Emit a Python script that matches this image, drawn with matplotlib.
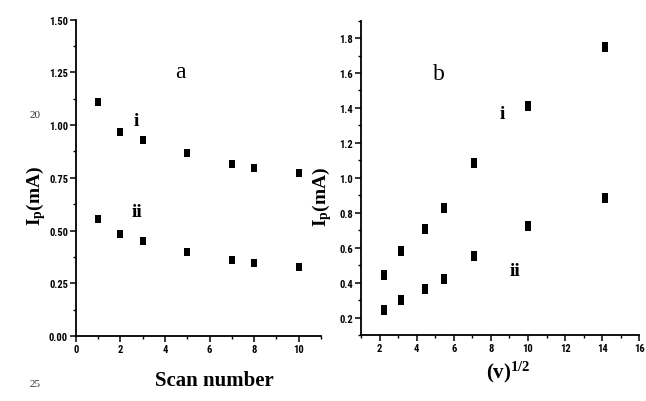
import matplotlib
matplotlib.use('Agg')
import matplotlib.pyplot as plt
import matplotlib.ticker as ticker
from matplotlib import font_manager
from matplotlib.path import Path
import numpy as np

# Panel a: peak current against scan number
scan = [1, 2, 3, 5, 7, 8, 10]
ip_a_i = [1.11, 0.967, 0.927, 0.867, 0.815, 0.798, 0.771]
ip_a_ii = [0.554, 0.485, 0.450, 0.397, 0.360, 0.346, 0.328]

# Panel b: peak current against square root of scan rate
rate = np.array([5, 10, 20, 30, 50, 100, 200])
sqrt_rate = np.sqrt(rate)
ip_b_i = [0.445, 0.583, 0.706, 0.828, 1.083, 1.413, 1.749]
ip_b_ii = [0.242, 0.299, 0.363, 0.420, 0.550, 0.726, 0.886]

plt.rcParams.update({
    'mathtext.fontset': 'custom',
    'mathtext.rm': 'Liberation Serif',
    'mathtext.bf': 'Liberation Serif:bold',
    'mathtext.it': 'Liberation Serif:italic',
})


def pick_font(names):
    for name in names:
        try:
            font_manager.findfont(font_manager.FontProperties(family=name),
                                  fallback_to_default=False)
            return name
        except ValueError:
            continue
    return 'DejaVu Sans'


TICK_FAMILY = pick_font(['Liberation Sans Narrow', 'Arial Narrow',
                         'Roboto Condensed', 'Liberation Sans'])
TICK_SIZE = 7.6 if ('Narrow' in TICK_FAMILY or 'Condensed' in TICK_FAMILY) else 6.8
SERIF = ['Liberation Serif', 'DejaVu Serif']

# tall rectangular marker
RECT = Path([(-0.36, -0.5), (0.36, -0.5), (0.36, 0.5), (-0.36, 0.5), (0, 0)],
            [Path.MOVETO, Path.LINETO, Path.LINETO, Path.LINETO, Path.CLOSEPOLY])


def style_axes(ax):
    for side in ('top', 'right'):
        ax.spines[side].set_visible(False)
    for side in ('left', 'bottom'):
        ax.spines[side].set_linewidth(1.3)
    ax.tick_params(which='major', direction='out', length=4.5, width=1.1, pad=1.2)
    ax.tick_params(which='minor', direction='out', length=2.5, width=1.0)
    for lab in ax.get_xticklabels() + ax.get_yticklabels():
        lab.set_fontfamily(TICK_FAMILY)
        lab.set_fontweight('bold')
        lab.set_fontsize(TICK_SIZE)


def draw_points(ax, x, y, size):
    ax.plot(x, y, linestyle='none', marker=RECT, markersize=size,
            markeredgewidth=0, color='black', clip_on=False)


fig = plt.figure(figsize=(6.46, 4.02), dpi=100)

# ---- panel a ----
ax1 = fig.add_axes([0.1176, 0.1617, 0.379, 0.787])
draw_points(ax1, scan, ip_a_i, 5.6)
draw_points(ax1, scan, ip_a_ii, 5.6)
ax1.set_xlim(0, 11)
ax1.set_ylim(0, 1.5)
ax1.xaxis.set_major_locator(ticker.MultipleLocator(2))
ax1.xaxis.set_minor_locator(ticker.MultipleLocator(1))
ax1.yaxis.set_major_locator(ticker.MultipleLocator(0.25))
ax1.yaxis.set_minor_locator(ticker.MultipleLocator(0.125))
ax1.yaxis.set_major_formatter(ticker.FormatStrFormatter('%.2f'))
style_axes(ax1)
ax1.set_ylabel(r'$\mathbf{I_p(mA)}$', fontsize=14, va='center')
ax1.yaxis.set_label_coords(-0.162, 0.446)
ax1.set_xlabel('Scan number', fontsize=15, fontweight='bold', family=SERIF,
               va='center')
ax1.xaxis.set_label_coords(0.567, -0.139)
ax1.text(4.7, 1.255, 'a', fontsize=17, family=SERIF, ha='center', va='center')
ax1.text(2.7, 1.02, 'i', fontsize=14, fontweight='bold', family=SERIF,
         ha='center', va='center')
ax1.text(2.75, 0.59, 'ii', fontsize=14, fontweight='bold', family=SERIF,
         ha='center', va='center')

# ---- panel b ----
ax2 = fig.add_axes([0.5588, 0.1642, 0.4308, 0.782])
draw_points(ax2, sqrt_rate, ip_b_i, 6.8)
draw_points(ax2, sqrt_rate, ip_b_ii, 6.8)
ax2.set_xlim(1, 16)
ax2.set_ylim(0.1, 1.9)
ax2.xaxis.set_major_locator(ticker.MultipleLocator(2))
ax2.xaxis.set_minor_locator(ticker.MultipleLocator(1))
ax2.yaxis.set_major_locator(ticker.MultipleLocator(0.2))
ax2.yaxis.set_minor_locator(ticker.MultipleLocator(0.1))
ax2.yaxis.set_major_formatter(ticker.FormatStrFormatter('%.1f'))
style_axes(ax2)
ax2.set_ylabel(r'$\mathbf{I_p(mA)}$', fontsize=14, va='center')
ax2.yaxis.set_label_coords(-0.14, 0.442)
ax2.set_xlabel(r'$\mathbf{(v)^{1/2}}$', fontsize=15, va='center')
ax2.xaxis.set_label_coords(0.528, -0.115)
ax2.text(5.2, 1.6, 'b', fontsize=17, family=SERIF, ha='center', va='center')
ax2.text(8.6, 1.37, 'i', fontsize=14, fontweight='bold', family=SERIF,
         ha='center', va='center')
ax2.text(9.3, 0.47, 'ii', fontsize=14, fontweight='bold', family=SERIF,
         ha='center', va='center')

# line numbers in the margin
fig.text(35 / 646, 1 - 116 / 402, '20', fontsize=8, family=SERIF,
         ha='center', va='center', color='#333333')
fig.text(35 / 646, 1 - 385 / 402, '25', fontsize=8, family=SERIF,
         ha='center', va='center', color='#333333')

fig.savefig('out.png', dpi=100)
